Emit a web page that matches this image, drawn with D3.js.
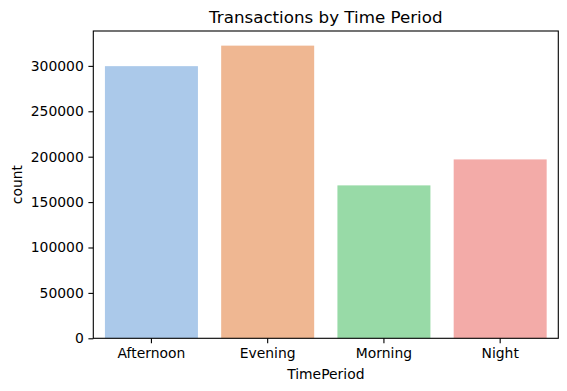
<!DOCTYPE html>
<html>
<head>
<meta charset="utf-8">
<script src="https://cdn.jsdelivr.net/npm/d3@7/dist/d3.min.js"></script>
<style>
  html, body { margin: 0; padding: 0; background: #fff; }
  svg { display: block; }
  text { font-family: "DejaVu Sans", sans-serif; fill: #000; }
</style>
</head>
<body>
<svg id="chart" width="567" height="391"></svg>
<script>
const categories = ["Afternoon", "Evening", "Morning", "Night"];
const counts = [299700, 322300, 168400, 197000];
const baseColors = ["#a1c9f4", "#ffb482", "#8de5a1", "#ff9f9b"];
const yTicks = [0, 50000, 100000, 150000, 200000, 250000, 300000];
const titleText = "Transactions by Time Period";
const xLabel = "TimePeriod";
const yLabel = "count";

const W = 567, H = 391;
const margin = { left: 93.3, right: 8.7, top: 31, bottom: 52.7 };
const pw = W - margin.left - margin.right;
const ph = H - margin.top - margin.bottom;

// seaborn default saturation 0.75
const colors = baseColors.map(c => { const h = d3.hsl(c); h.s *= 0.75; return h.formatHex(); });

const svg = d3.select("#chart");
const g = svg.append("g").attr("transform", `translate(${margin.left},${margin.top})`);

const x = d3.scaleBand().domain(categories).range([0, pw]).paddingInner(0.2).paddingOuter(0.1);
const y = d3.scaleLinear().domain([0, d3.max(counts) * 1.05]).range([ph, 0]);

g.selectAll("rect.bar")
  .data(categories)
  .join("rect")
  .attr("class", "bar")
  .attr("x", d => x(d))
  .attr("width", x.bandwidth())
  .attr("y", (d, i) => y(counts[i]))
  .attr("height", (d, i) => ph - y(counts[i]))
  .attr("fill", (d, i) => colors[i]);

const yAxis = g.append("g")
  .call(d3.axisLeft(y).tickValues(yTicks).tickFormat(d3.format("d")).tickSize(4.9).tickPadding(4.6));
const xAxis = g.append("g").attr("transform", `translate(0,${ph})`)
  .call(d3.axisBottom(x).tickSize(4.9).tickPadding(4.6));

[yAxis, xAxis].forEach(a => {
  a.select(".domain").remove();
  a.selectAll("line").attr("stroke", "#000").attr("stroke-width", 1.1);
  a.selectAll("text").attr("font-size", "13.9px").attr("font-family", "DejaVu Sans").attr("fill", "#000");
});

// frame (spines)
g.append("rect").attr("x", 0).attr("y", 0).attr("width", pw).attr("height", ph)
  .attr("fill", "none").attr("stroke", "#000").attr("stroke-width", 1.1);

svg.append("text")
  .attr("x", margin.left + pw / 2).attr("y", 22.5)
  .attr("text-anchor", "middle").attr("font-size", "16.7px")
  .text(titleText);

svg.append("text")
  .attr("x", margin.left + pw / 2).attr("y", 378.5)
  .attr("text-anchor", "middle").attr("font-size", "13.9px")
  .text(xLabel);

svg.append("text")
  .attr("transform", `translate(21.5,${margin.top + ph / 2}) rotate(-90)`)
  .attr("text-anchor", "middle").attr("font-size", "13.9px")
  .text(yLabel);
</script>
</body>
</html>
